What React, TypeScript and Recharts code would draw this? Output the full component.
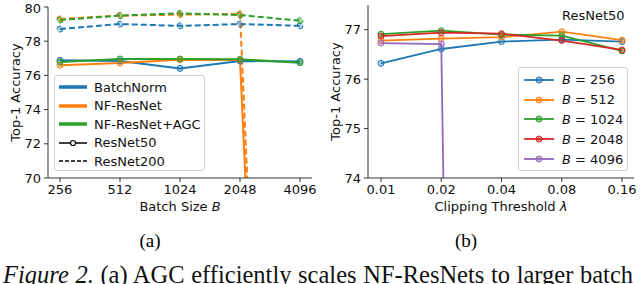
import { Label, Legend, Line, LineChart, XAxis, YAxis } from 'recharts';

// (a) batch size sweep
const batchSizes = ['256', '512', '1024', '2048', '4096'];
const batchNorm50 = [76.88, 76.84, 76.41, 76.84, 76.82];
const nfResNet50 = [76.6, 76.72, 76.92, 76.9, 0.1];
const agc50 = [76.78, 76.96, 76.96, 76.94, 76.74];
const batchNorm200 = [78.71, 79.0, 78.9, 79.0, 78.9];
const nfResNet200 = [79.3, 79.5, 79.55, 79.6, 0.1];
const agc200 = [79.24, 79.5, 79.63, 79.53, 79.2];
const leftTicks = [70, 72, 74, 76, 78, 80];

// (b) clipping threshold sweep, ResNet50
const thresholds = ['0.01', '0.02', '0.04', '0.08', '0.16'];
const acc256 = [76.32, 76.61, 76.76, 76.8, 76.76];
const acc512 = [76.78, 76.82, 76.85, 76.96, 76.79];
const acc1024 = [76.91, 76.98, 76.9, 76.88, 76.57];
const acc2048 = [76.87, 76.94, 76.92, 76.78, 76.59];
const acc4096 = [76.73, 76.71, 0.1, 0.1, 0.1];
const rightTicks = [74, 75, 76, 77];

const BLUE = '#1f77b4';
const ORANGE = '#ff7f0e';
const GREEN = '#2ca02c';
const RED = '#d62728';
const PURPLE = '#9467bd';
const AXIS = '#333';
const FONT = 'DejaVu Sans';
const FS = 13;

const leftData = batchSizes.map((b, i) => ({
  b,
  bn50: batchNorm50[i],
  nf50: nfResNet50[i],
  agc50: agc50[i],
  bn200: batchNorm200[i],
  nf200: nfResNet200[i],
  agc200: agc200[i],
}));

const rightData = thresholds.map((t, i) => ({
  t,
  b256: acc256[i],
  b512: acc512[i],
  b1024: acc1024[i],
  b2048: acc2048[i],
  b4096: acc4096[i],
}));

const tickStyle = { fontSize: FS, fill: '#111', fontFamily: FONT };

const dot = (color: string) => ({
  r: 3,
  fill: color,
  fillOpacity: 0.35,
  stroke: color,
  strokeWidth: 1,
});

function YTitle(props: any) {
  const { viewBox } = props;
  const cx = 15;
  const cy = viewBox.y + viewBox.height / 2;
  return (
    <text
      x={cx}
      y={cy}
      transform={`rotate(-90 ${cx} ${cy})`}
      textAnchor="middle"
      dominantBaseline="central"
      fontSize={FS}
      fontFamily={FONT}
      fill="#111"
    >
      Top-1 Accuracy
    </text>
  );
}

function XTitle(props: any) {
  const { viewBox, text, sym } = props;
  const cx = viewBox.x + viewBox.width / 2;
  return (
    <text
      x={cx}
      y={206}
      textAnchor="middle"
      dominantBaseline="central"
      fontSize={FS}
      fontFamily={FONT}
      fill="#111"
    >
      {text}
      <tspan fontStyle="italic">{sym}</tspan>
    </text>
  );
}

const legendBox: React.CSSProperties = {
  background: 'rgba(255,255,255,0.85)',
  border: '1px solid #d0d0d0',
  borderRadius: 3,
  boxSizing: 'border-box',
  fontFamily: FONT,
  fontSize: FS,
  color: '#111',
  whiteSpace: 'nowrap',
};

function LeftLegend() {
  const rows: { label: string; color: string; width: number; dash?: string; marker?: boolean }[] = [
    { label: 'BatchNorm', color: BLUE, width: 3.5 },
    { label: 'NF-ResNet', color: ORANGE, width: 3.5 },
    { label: 'NF-ResNet+AGC', color: GREEN, width: 3.5 },
    { label: 'ResNet50', color: '#000', width: 1.5, marker: true },
    { label: 'ResNet200', color: '#000', width: 1.5, dash: '4 2' },
  ];
  return (
    <div style={{ ...legendBox, width: 151, height: 96, padding: '2px 0 0 3px' }}>
      {rows.map((r) => (
        <div key={r.label} style={{ display: 'flex', alignItems: 'center', height: 18.5 }}>
          <svg width={30} height={10} style={{ marginRight: 6, flexShrink: 0 }}>
            <line x1={1} x2={29} y1={5} y2={5} stroke={r.color} strokeWidth={r.width} strokeDasharray={r.dash} />
            {r.marker && <circle cx={15} cy={5} r={2.5} fill="#fff" stroke="#000" strokeWidth={1.2} />}
          </svg>
          <span>{r.label}</span>
        </div>
      ))}
    </div>
  );
}

function RightLegend() {
  const rows = [
    { n: '256', color: BLUE },
    { n: '512', color: ORANGE },
    { n: '1024', color: GREEN },
    { n: '2048', color: RED },
    { n: '4096', color: PURPLE },
  ];
  return (
    <div style={{ ...legendBox, width: 110, height: 104, padding: '2px 0 0 4px' }}>
      {rows.map((r) => (
        <div key={r.n} style={{ display: 'flex', alignItems: 'center', height: 19.8 }}>
          <svg width={32} height={10} style={{ marginRight: 7, flexShrink: 0 }}>
            <line x1={1} x2={31} y1={5} y2={5} stroke={r.color} strokeWidth={1.8} />
            <circle cx={16} cy={5} r={3} fill={r.color} fillOpacity={0.5} stroke={r.color} />
          </svg>
          <span>
            <i>B</i> = {r.n}
          </span>
        </div>
      ))}
    </div>
  );
}

export default function App() {
  return (
    <div
      style={{
        position: 'fixed',
        left: 0,
        top: 0,
        width: 640,
        height: 284,
        background: '#fff',
        overflow: 'hidden',
        fontFamily: FONT,
      }}
    >
      <div style={{ position: 'absolute', left: 0, top: 0 }}>
        <LineChart width={320} height={230} data={leftData} margin={{ top: 7, right: 8, bottom: 0, left: 0 }}>
          <XAxis
            dataKey="b"
            height={52}
            padding={{ left: 12, right: 12 }}
            tick={tickStyle}
            tickSize={4}
            tickMargin={3}
            stroke={AXIS}
          >
            <Label content={(p: any) => <XTitle {...p} text="Batch Size " sym="B" />} />
          </XAxis>
          <XAxis xAxisId="top" orientation="top" dataKey="b" height={0} tick={false} tickLine={false} stroke={AXIS} />
          <YAxis
            width={48}
            domain={[70, 80]}
            ticks={leftTicks}
            allowDataOverflow
            tick={tickStyle}
            tickSize={4}
            tickMargin={3}
            stroke={AXIS}
          >
            <Label content={(p: any) => <YTitle {...p} />} />
          </YAxis>
          <YAxis yAxisId="right" orientation="right" width={0} domain={[70, 80]} tick={false} tickLine={false} stroke={AXIS} />
          <Legend
            layout="vertical"
            align="center"
            verticalAlign="middle"
            wrapperStyle={{ left: 54, top: 75, width: 151 }}
            content={() => <LeftLegend />}
          />
          <Line dataKey="bn200" stroke={BLUE} strokeWidth={2} strokeDasharray="6 3" dot={dot(BLUE)} isAnimationActive={false} />
          <Line dataKey="nf200" stroke={ORANGE} strokeWidth={2} strokeDasharray="6 3" dot={dot(ORANGE)} isAnimationActive={false} />
          <Line dataKey="agc200" stroke={GREEN} strokeWidth={2} strokeDasharray="6 3" dot={dot(GREEN)} isAnimationActive={false} />
          <Line dataKey="bn50" stroke={BLUE} strokeWidth={2} dot={dot(BLUE)} isAnimationActive={false} />
          <Line dataKey="nf50" stroke={ORANGE} strokeWidth={2} dot={dot(ORANGE)} isAnimationActive={false} />
          <Line dataKey="agc50" stroke={GREEN} strokeWidth={2} dot={dot(GREEN)} isAnimationActive={false} />
        </LineChart>
      </div>

      <div style={{ position: 'absolute', left: 320, top: 0 }}>
        <LineChart width={320} height={230} data={rightData} margin={{ top: 5, right: 6, bottom: 0, left: 0 }}>
          <XAxis
            dataKey="t"
            height={52}
            padding={{ left: 13, right: 12 }}
            tick={tickStyle}
            tickSize={4}
            tickMargin={3}
            stroke={AXIS}
            interval={0}
          >
            <Label content={(p: any) => <XTitle {...p} text="Clipping Threshold " sym="λ" />} />
          </XAxis>
          <XAxis xAxisId="top" orientation="top" dataKey="t" height={0} tick={false} tickLine={false} stroke={AXIS} />
          <YAxis
            width={48}
            domain={[74, 77.5]}
            ticks={rightTicks}
            allowDataOverflow
            tick={tickStyle}
            tickSize={4}
            tickMargin={3}
            stroke={AXIS}
          >
            <Label content={(p: any) => <YTitle {...p} />} />
          </YAxis>
          <YAxis yAxisId="right" orientation="right" width={0} domain={[74, 77.5]} tick={false} tickLine={false} stroke={AXIS} />
          <Legend
            layout="vertical"
            align="center"
            verticalAlign="middle"
            wrapperStyle={{ left: 198, top: 67, width: 110 }}
            content={() => <RightLegend />}
          />
          <Line dataKey="b256" stroke={BLUE} strokeWidth={1.8} dot={dot(BLUE)} isAnimationActive={false} />
          <Line dataKey="b512" stroke={ORANGE} strokeWidth={1.8} dot={dot(ORANGE)} isAnimationActive={false} />
          <Line dataKey="b1024" stroke={GREEN} strokeWidth={1.8} dot={dot(GREEN)} isAnimationActive={false} />
          <Line dataKey="b2048" stroke={RED} strokeWidth={1.8} dot={dot(RED)} isAnimationActive={false} />
          <Line dataKey="b4096" stroke={PURPLE} strokeWidth={1.8} dot={dot(PURPLE)} isAnimationActive={false} />
        </LineChart>
        <div
          style={{
            position: 'absolute',
            left: 242,
            top: 8,
            fontSize: FS,
            color: '#111',
            whiteSpace: 'nowrap',
          }}
        >
          ResNet50
        </div>
      </div>

      <div style={{ position: 'absolute', left: 0, top: 229, width: 300, textAlign: 'center', fontFamily: 'Liberation Serif', fontSize: 19, lineHeight: '24px' }}>
        (a)
      </div>
      <div style={{ position: 'absolute', left: 316, top: 229, width: 300, textAlign: 'center', fontFamily: 'Liberation Serif', fontSize: 19, lineHeight: '24px' }}>
        (b)
      </div>
      <div
        style={{
          position: 'absolute',
          left: 3,
          top: 263,
          fontFamily: 'Liberation Serif',
          fontSize: 24.5,
          lineHeight: '24px',
          wordSpacing: 0.5,
          whiteSpace: 'nowrap',
          color: '#111',
        }}
      >
        <i>Figure 2.</i> (a) AGC efficiently scales NF-ResNets to larger batch
      </div>
    </div>
  );
}
